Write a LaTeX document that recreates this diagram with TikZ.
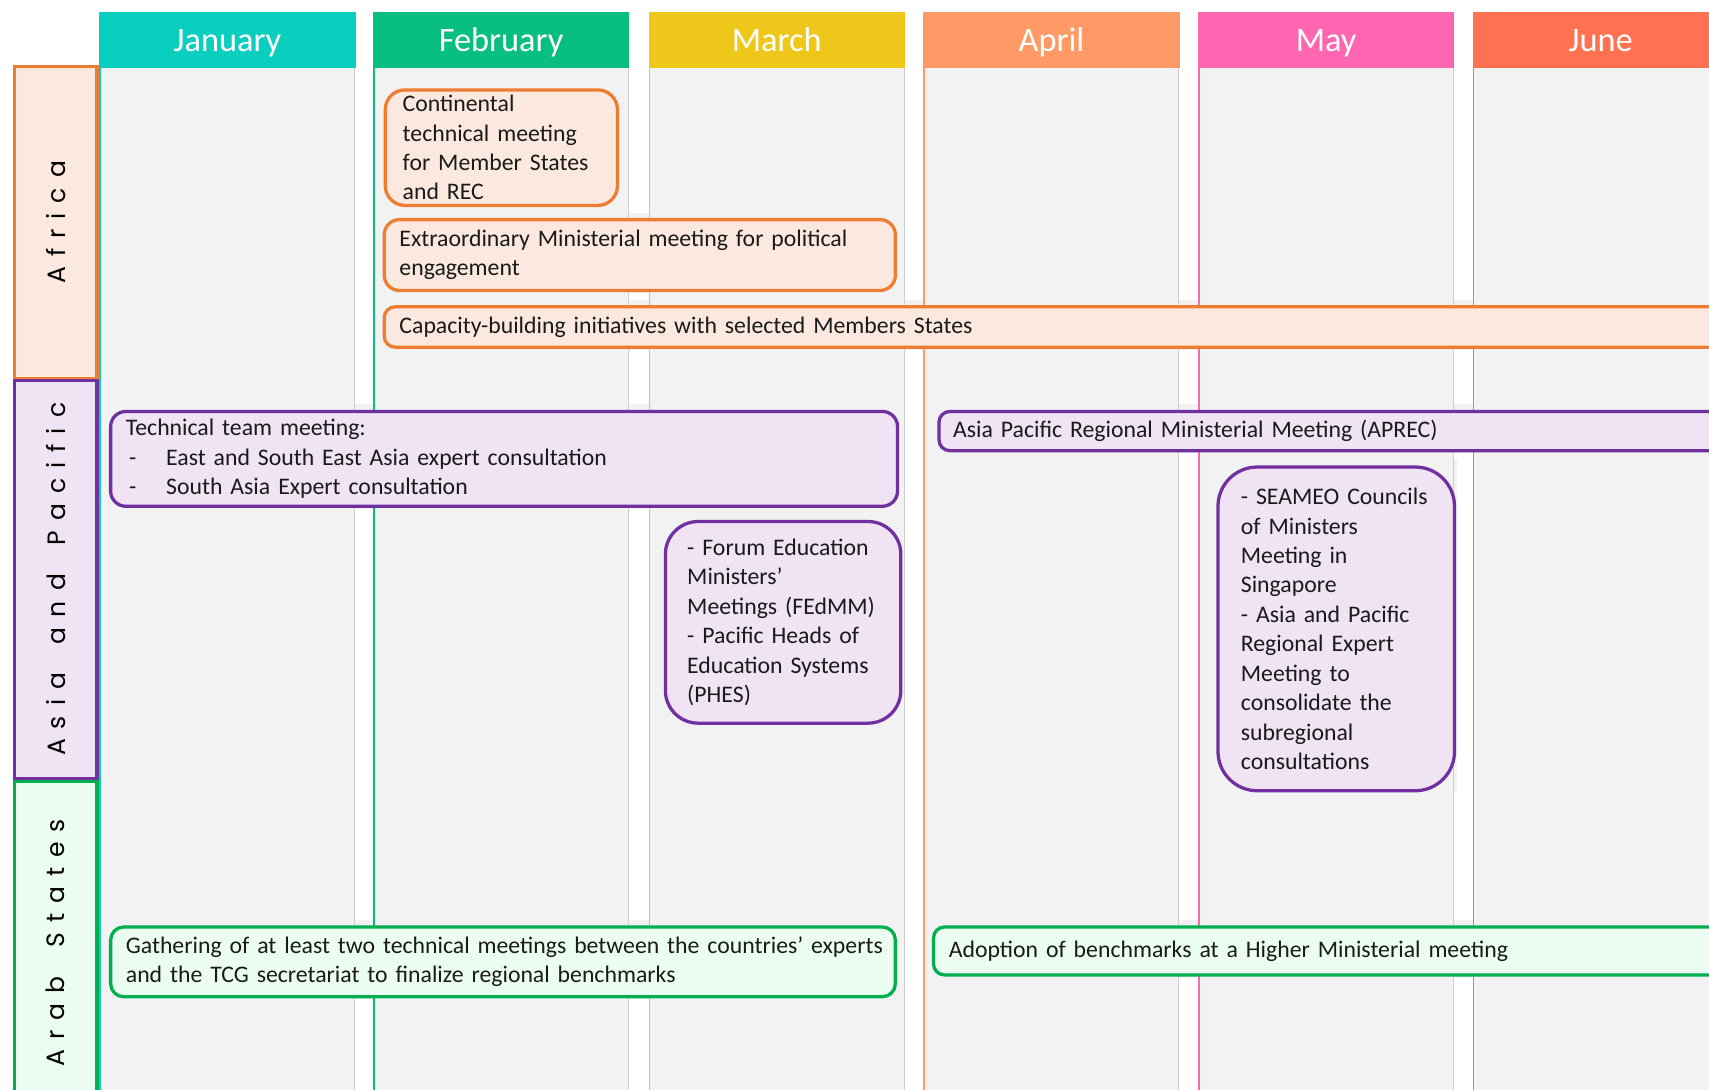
\documentclass[tikz,border=0pt]{standalone}
\usepackage{fontspec}
\setmainfont{Carlito}
\newfontfamily\lblfont[LetterSpace=40]{Poppins}
\definecolor{jan}{HTML}{0ACFBE}
\definecolor{feb}{HTML}{08BF80}
\definecolor{mar}{HTML}{EFC71A}
\definecolor{apr}{HTML}{FF9966}
\definecolor{may}{HTML}{FF66B2}
\definecolor{jun}{HTML}{FF7150}
\definecolor{colbg}{HTML}{F2F2F2}
\definecolor{colln}{HTML}{CFCFCF}
\definecolor{afrln}{HTML}{ED7D31}
\definecolor{afrbg}{HTML}{FBE9DF}
\definecolor{asiln}{HTML}{7030A0}
\definecolor{asibg}{HTML}{EFE3F4}
\definecolor{arbln}{HTML}{00B050}
\definecolor{arbbg}{HTML}{EBFDF1}
\definecolor{txt}{HTML}{1A1A1A}
\newcommand\Lx[1]{\mbox{#1}}
\newcommand\Dx{\makebox[37pt][l]{\hspace{3pt}-}}
\newcommand\Wg{\hspace{11pt}}
\tikzset{
  mhead/.style={anchor=north west, draw=none, text=white, inner sep=0pt,
    minimum width=235pt, minimum height=51pt, text height=25pt, text depth=4pt,
    font=\fontsize{31.5}{36}\selectfont},
  rowlbl/.style={rotate=90, line width=3pt, inner sep=0pt, text=black,
    font=\lblfont\fontsize{23}{26}\selectfont},
  evbase/.style={line width=3pt, anchor=north west, align=left, inner ysep=0pt,
    text=txt, font=\fontsize{21.8}{27}\selectfont},
  afrev/.style={evbase, draw=afrln, fill=afrbg},
  asiev/.style={evbase, draw=asiln, fill=asibg},
  arbev/.style={evbase, draw=arbln, fill=arbbg},
}
\begin{document}
\begin{tikzpicture}[x=1pt,y=-1pt]
\useasboundingbox (0,0) rectangle (1568,1000);
\clip (0,0) rectangle (1568,1000);
\fill[white] (0,0) rectangle (1568,1000);
% column bodies
\foreach \xl in {91,342,595,847,1099,1351}
  \fill[colbg] (\xl,62) rectangle ++(235,960);
% gray halos behind the event boxes
\fill[colbg] (347,76) rectangle (569,192);
\fill[colbg] (346,195) rectangle (824,269);
\fill[colbg] (346,275) rectangle (1600,321);
\fill[colbg] (95,371) rectangle (826,467);
\fill[colbg] (855,371) rectangle (1600,416);
\fill[colbg] (604,472) rectangle (829,666);
\fill[colbg] (1111,422) rectangle (1337,728);
\fill[colbg] (95,844) rectangle (824,917);
\fill[colbg] (850,844) rectangle (1600,897);
% column edge lines
\foreach \xl/\c in {91/jan,342/feb,595/mar,847/apr,1099/may,1351/jun}{
  \draw[\c, line width=1.6pt] (\xl+0.8,62) -- ++(0,960);
  \draw[colln, line width=1pt] (\xl+234.5,62) -- ++(0,960);
}
% month headers
\foreach \xl/\c/\m in {91/jan/January,342/feb/February,595/mar/March,847/apr/April,1099/may/May,1351/jun/June}
  \node[mhead, fill=\c] (h\c) at (\xl,11) {\m};
% row labels
\node[rowlbl, draw=afrln, fill=afrbg, minimum width=286pt, minimum height=76pt] (africa) at (51,204) {Africa};
\node[rowlbl, draw=asiln, fill=asibg, minimum width=365pt, minimum height=76pt] (asia) at (51,531.5) {Asia\Wg{} and\Wg{} Pacific};
\node[rowlbl, draw=arbln, fill=arbbg, minimum width=296pt, minimum height=76pt] (arab) at (51,865) {Arab\Wg{} States};
% Africa events
\node[afrev, rounded corners=18pt, minimum width=213pt, minimum height=106pt, text width=181pt, inner xsep=16pt] (cont) at (352,81)
  {\Lx{Continental}\\\Lx{technical meeting}\\\Lx{for Member States}\\\Lx{and REC}};
\node[afrev, rounded corners=14pt, minimum width=469pt, minimum height=65pt, text width=441pt, inner xsep=14pt] (extra) at (351,200)
  {\Lx{Extraordinary Ministerial meeting for political}\\\Lx{engagement}};
\node[afrev, rounded corners=10pt, minimum width=1300pt, minimum height=37pt, text width=1272pt, inner xsep=14pt] (cap) at (351,280)
  {\Lx{Capacity-building initiatives with selected Members States}};
% Asia and Pacific events
\node[asiev, rounded corners=14pt, minimum width=722pt, minimum height=87pt, text width=694pt, inner xsep=14pt] (tech) at (100,376)
  {\Lx{Technical team meeting:}\\\Lx{\Dx East and South East Asia expert consultation}\\\Lx{\Dx South Asia Expert consultation}};
\node[asiev, rounded corners=10pt, minimum width=800pt, minimum height=36pt, text width=774pt, inner xsep=13pt] (aprec) at (860,376)
  {\Lx{Asia Pacific Regional Ministerial Meeting (APREC)}};
\node[asiev, rounded corners=30pt, minimum width=216pt, minimum height=185pt, text width=176pt, inner xsep=20pt] (forum) at (609,477)
  {\Lx{- Forum Education}\\\Lx{Ministers’}\\\Lx{Meetings (FEdMM)}\\\Lx{- Pacific Heads of}\\\Lx{Education Systems}\\\Lx{(PHES)}};
\node[asiev, rounded corners=36pt, minimum width=217pt, minimum height=297pt, text width=175pt, inner xsep=21pt] (seameo) at (1116,427)
  {\Lx{- SEAMEO Councils}\\\Lx{of Ministers}\\\Lx{Meeting in}\\\Lx{Singapore}\\\Lx{- Asia and Pacific}\\\Lx{Regional Expert}\\\Lx{Meeting to}\\\Lx{consolidate the}\\\Lx{subregional}\\\Lx{consultations}};
% Arab States events
\node[arbev, rounded corners=12pt, minimum width=720pt, minimum height=64pt, text width=692pt, inner xsep=14pt] (gather) at (100,849)
  {\Lx{Gathering of at least two technical meetings between the countries’ experts}\\\Lx{and the TCG secretariat to finalize regional benchmarks}};
\node[arbev, rounded corners=10pt, minimum width=800pt, minimum height=44pt, text width=772pt, inner xsep=14pt] (adopt) at (855,849)
  {\Lx{Adoption of benchmarks at a Higher Ministerial meeting}};
\end{tikzpicture}
\end{document}
